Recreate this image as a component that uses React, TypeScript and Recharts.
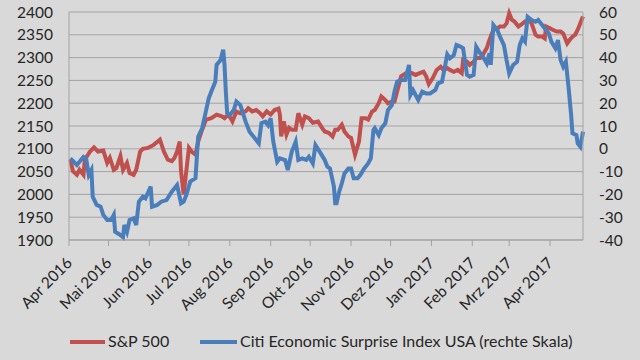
import { LineChart, Line, XAxis, YAxis, CartesianGrid, Legend } from 'recharts';

// days counted from 1 Apr 2016
const monthStarts = [0, 30, 61, 91, 122, 153, 183, 214, 244, 275, 306, 334, 365];
const monthLabels = [
  'Apr 2016', 'Mai 2016', 'Jun 2016', 'Jul 2016', 'Aug 2016', 'Sep 2016', 'Okt 2016',
  'Nov 2016', 'Dez 2016', 'Jan 2017', 'Feb 2017', 'Mrz 2017', 'Apr 2017',
];
const leftTicks = [1900, 1950, 2000, 2050, 2100, 2150, 2200, 2250, 2300, 2350, 2400];
const rightTicks = [-40, -30, -20, -10, 0, 10, 20, 30, 40, 50, 60];

const spxDays = [
  1, 3, 6, 8, 11, 12, 16, 19, 22, 26, 29, 31, 34, 36, 39, 41, 44, 46, 49, 51, 54, 56, 60, 64,
  69, 72, 75, 78, 80, 82, 84, 85, 87, 89, 91, 93, 96, 98, 101, 104, 108, 112, 116, 118, 121,
  124, 127, 130, 134, 136, 139, 142, 145, 147, 150, 153, 156, 159, 160, 161, 163, 165, 167,
  169, 172, 174, 177, 179, 182, 185, 189, 192, 194, 197, 200, 202, 204, 207, 209, 212, 214,
  217, 220, 222, 225, 227, 230, 232, 235, 237, 240, 242, 245, 247, 250, 252, 256, 260, 263,
  266, 269, 271, 273, 276, 279, 282, 284, 287, 289, 292, 295, 298, 299, 302, 304, 307, 309,
  312, 314, 317, 319, 322, 325, 327, 330, 332, 334, 336, 338, 341, 343, 346, 349, 351, 354,
  356, 359, 361, 362, 365, 367, 370, 373, 375, 378, 380, 382, 384, 386, 390,
];
const spxValues = [
  2076, 2051, 2043, 2054, 2043, 2076, 2094, 2103, 2094, 2096, 2069, 2080, 2054, 2058, 2084,
  2054, 2069, 2047, 2043, 2054, 2094, 2100, 2102, 2108, 2120, 2094, 2076, 2073, 2080, 2094,
  2116, 2051, 2000, 2051, 2102, 2094, 2087, 2116, 2142, 2164, 2167, 2175, 2171, 2167, 2175,
  2160, 2182, 2178, 2182, 2189, 2182, 2185, 2178, 2171, 2182, 2175, 2185, 2188, 2175, 2127,
  2160, 2131, 2146, 2142, 2142, 2178, 2153, 2171, 2167, 2157, 2160, 2146, 2138, 2135, 2127,
  2142, 2142, 2153, 2138, 2127, 2124, 2087, 2116, 2167, 2167, 2164, 2182, 2185, 2200, 2215,
  2207, 2200, 2204, 2204, 2237, 2259, 2266, 2266, 2262, 2266, 2269, 2259, 2242, 2255, 2273,
  2280, 2273, 2277, 2273, 2269, 2273, 2266, 2295, 2291, 2284, 2291, 2299, 2299, 2306, 2321,
  2339, 2361, 2364, 2368, 2368, 2375, 2397, 2383, 2379, 2368, 2372, 2379, 2383, 2375, 2350,
  2346, 2346, 2342, 2368, 2364, 2361, 2357, 2357, 2353, 2331, 2339, 2346, 2350, 2361, 2390,
];

const cesiDays = [
  1, 6, 11, 13, 15, 17, 18, 21, 24, 26, 29, 32, 34, 35, 39, 41, 42, 44, 46, 49, 51, 53, 56, 58,
  62, 63, 67, 70, 74, 78, 82, 85, 87, 89, 92, 96, 98, 101, 103, 106, 108, 111, 112, 115, 117,
  118, 119, 120, 122, 125, 127, 130, 134, 137, 141, 144, 146, 149, 151, 153, 155, 158, 160,
  164, 166, 169, 172, 174, 177, 180, 182, 185, 187, 191, 194, 196, 198, 201, 202, 203, 205,
  207, 209, 212, 214, 216, 219, 221, 224, 227, 229, 231, 232, 235, 237, 240, 242, 245, 247,
  249, 252, 255, 257, 258, 259, 261, 265, 268, 271, 274, 278, 280, 283, 285, 287, 289, 292,
  294, 297, 299, 302, 304, 307, 309, 312, 314, 317, 319, 320, 322, 325, 327, 330, 332, 334,
  337, 340, 342, 344, 346, 348, 351, 354, 356, 359, 361, 364, 366, 369, 371, 373, 375, 377,
  379, 381, 382, 385, 386, 388, 390,
];
const cesiValues = [
  -4.2, -7.1, -3.5, -4.2, -11.5, -9.3, -21, -24.6, -25.4, -29, -31.2, -31.2, -29, -36.4, -37.8,
  -38.8, -33.4, -36.4, -31.2, -30.5, -33.4, -23.2, -21, -21.7, -16.6, -25.4, -24.6, -23.2,
  -22.5, -18.8, -15.9, -23.9, -23.2, -20.3, -14.4, -12.9, 5.3, 9, 14.1, 22.1, 25.1, 29.4, 36.8,
  38.9, 43.5, 36.8, 25.1, 15.6, 14.8, 17, 20.7, 19.2, 11.9, 7.5, 4.6, 2.4, 11.2, 11.9, 10.4,
  13.4, 3.1, -5.7, -4.2, -4.9, -9.3, -1.3, 3.1, -4.9, -4.2, -4.9, -3.5, -6.4, 1.6, -2, -4.9,
  -7.8, -8.6, -16.6, -23.9, -23.9, -18.8, -15.1, -10.8, -8.6, -8.6, -12.9, -12.9, -11.5, -8.6,
  -6.4, -4.2, 8.2, 9, 6, 9, 11.2, 17, 19.2, 25.1, 29.4, 30.2, 30.2, 34.6, 36.8, 23.6, 25.8,
  21.4, 25.1, 24.3, 24.3, 25.8, 28.7, 29.4, 35.3, 41.4, 39.7, 41.1, 45.5, 44.8, 44.1, 32.4,
  31.6, 32.4, 44.8, 41.9, 40.4, 37.5, 41.9, 36.8, 54.3, 52.1, 49.2, 45.5, 38.9, 33.1, 36.8,
  38.2, 45.5, 48.5, 47, 57.9, 56.5, 55.7, 56.5, 54.3, 52.8, 50.7, 47, 44.1, 47.7, 38.9, 36,
  38.2, 27.2, 14.8, 6.8, 6, 2.4, 0.9, 7.5,
];

const spxData = spxDays.map((day, i) => ({ day, value: spxValues[i] }));
const cesiData = cesiDays.map((day, i) => ({ day, value: cesiValues[i] }));

const FONT = 'Lato, "Open Sans", sans-serif';
const RED = '#c0504d';
const BLUE = '#4a7ebb';
const GRID = '#a3a3a3';

const MonthTick = ({ x, y, payload }: any) => {
  const label = monthLabels[monthStarts.indexOf(payload.value)];
  const ax = x + 4;
  const ay = y + 16;
  return (
    <text
      x={ax}
      y={ay}
      textAnchor="end"
      transform={`rotate(-45, ${ax}, ${ay})`}
      fontFamily={FONT}
      fontSize={15.5}
      fill="#262626"
    >
      {label}
    </text>
  );
};

const ChartLegend = () => (
  <div style={{ position: 'relative', height: 30, fontFamily: FONT, fontSize: 16, color: '#262626' }}>
    <div style={{ position: 'absolute', left: 70, top: 13, width: 35, height: 4, background: RED }} />
    <span style={{ position: 'absolute', left: 108, top: 4, whiteSpace: 'nowrap' }}>S&amp;P 500</span>
    <div style={{ position: 'absolute', left: 200, top: 13, width: 37, height: 4, background: BLUE }} />
    <span style={{ position: 'absolute', left: 240, top: 4, whiteSpace: 'nowrap' }}>
      Citi Economic Surprise Index USA (rechte Skala)
    </span>
  </div>
);

export default function App() {
  return (
    <div style={{ position: 'absolute', left: 0, top: 0, width: 640, height: 360, background: '#d9d9d9' }}>
      <LineChart width={640} height={360} margin={{ top: 12, right: 0, bottom: 3, left: 0 }}>
        <CartesianGrid yAxisId="left" vertical={false} stroke={GRID} strokeWidth={1} />
        <XAxis
          dataKey="day"
          type="number"
          domain={[0, 390]}
          ticks={monthStarts}
          interval={0}
          height={87}
          tick={<MonthTick />}
          tickLine={{ stroke: GRID }}
          axisLine={{ stroke: GRID }}
          tickSize={6}
        />
        <YAxis
          yAxisId="left"
          domain={[1900, 2400]}
          ticks={leftTicks}
          interval={0}
          width={69}
          tickLine={false}
          tickSize={0}
          tickMargin={16}
          axisLine={{ stroke: GRID }}
          tick={{ fontFamily: FONT, fontSize: 15.5, fill: '#262626' }}
        />
        <YAxis
          yAxisId="right"
          orientation="right"
          domain={[-40, 60]}
          ticks={rightTicks}
          interval={0}
          width={57}
          tickLine={false}
          tickSize={0}
          tickMargin={16}
          axisLine={{ stroke: GRID }}
          tick={{ fontFamily: FONT, fontSize: 15.5, fill: '#262626' }}
        />
        <Legend verticalAlign="bottom" height={30} content={<ChartLegend />} />
        <Line
          yAxisId="left"
          data={spxData}
          dataKey="value"
          name="S&P 500"
          stroke={RED}
          strokeWidth={4}
          dot={false}
          type="linear"
          isAnimationActive={false}
        />
        <Line
          yAxisId="right"
          data={cesiData}
          dataKey="value"
          name="Citi Economic Surprise Index USA (rechte Skala)"
          stroke={BLUE}
          strokeWidth={4}
          dot={false}
          type="linear"
          isAnimationActive={false}
        />
      </LineChart>
    </div>
  );
}
